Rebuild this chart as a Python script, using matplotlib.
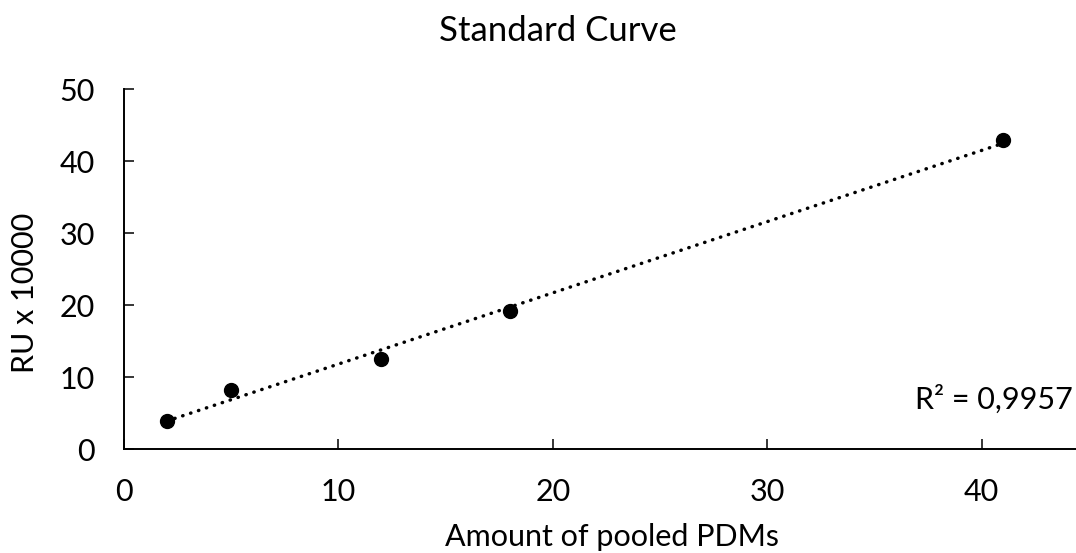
import matplotlib.pyplot as plt
import numpy as np

plt.rcParams['font.family'] = ['Lato', 'DejaVu Sans']

# pooled PDM amount vs response units (x 10000)
amount = [2, 5, 12, 18, 41]
ru = [3.9, 8.2, 12.5, 19.2, 42.9]
r2_label = "R² = 0,9957"

x_ticks = [0, 10, 20, 30, 40]
y_ticks = [0, 10, 20, 30, 40, 50]

fig = plt.figure(figsize=(10.76, 5.53), dpi=100)
ax = fig.add_axes([0.1152, 0.188, 0.8848, 0.651])

# linear trendline across the measured range
slope, intercept = np.polyfit(amount, ru, 1)
xs = np.array([min(amount), max(amount)])
ax.plot(xs, slope * xs + intercept, color='black', linewidth=2.5,
        linestyle=(0, (0.1, 2.3)), dash_capstyle='round', zorder=2)

ax.plot(amount, ru, 'o', color='black', markersize=10, zorder=3)

ax.set_xlim(0, 44.4)
ax.set_ylim(0, 50)
ax.set_xticks(x_ticks)
ax.set_yticks(y_ticks)

for side in ['top', 'right']:
    ax.spines[side].set_visible(False)
for side in ['left', 'bottom']:
    ax.spines[side].set_linewidth(1.4)
    ax.spines[side].set_color('black')

ax.tick_params(direction='in', length=7, width=1.1, labelsize=22,
               colors='black')
ax.tick_params(axis='x', pad=21)
ax.tick_params(axis='y', pad=21)

fig.text(558 / 1076, 1 - 31 / 553, "Standard Curve", ha='center',
         va='center', fontsize=25)
fig.text(612 / 1076, 1 - 537 / 553, "Amount of pooled PDMs", ha='center',
         va='center', fontsize=22)
fig.text(25 / 1076, 1 - 293 / 553, "RU x 10000", ha='center',
         va='center', rotation=90, fontsize=22)
fig.text(1073 / 1076, 1 - 399 / 553, r2_label, ha='right', va='center',
         fontsize=22)

fig.savefig('out.png', dpi=100)
